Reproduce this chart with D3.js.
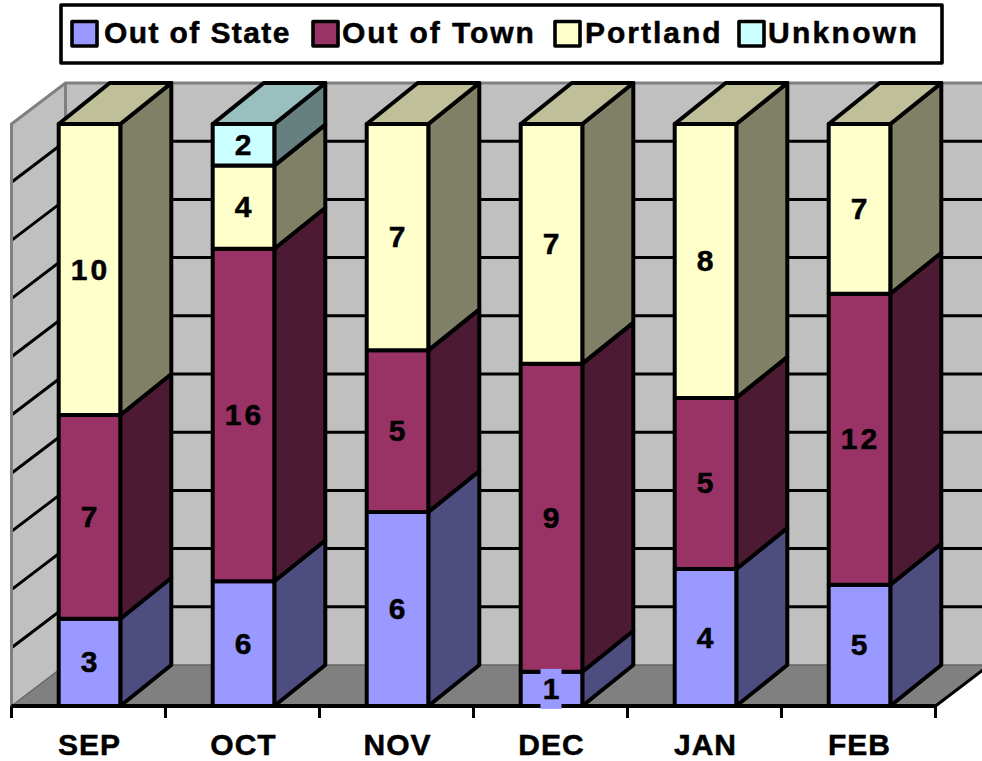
<!DOCTYPE html>
<html>
<head>
<meta charset="utf-8">
<script src="https://cdn.jsdelivr.net/npm/d3@7"></script>
<style>
html,body{margin:0;padding:0;background:#fff;overflow:hidden}
svg{display:block}
text{font-family:"Liberation Sans",Arial,sans-serif;font-weight:700;fill:#000;stroke:#000;stroke-width:0.5px}
</style>
</head>
<body>
<svg id="chart" width="982" height="761"></svg>
<script>
const months = ["SEP","OCT","NOV","DEC","JAN","FEB"];
const seriesNames = ["Out of State","Out of Town","Portland","Unknown"];
const outOfState = [3,6,6,1,4,5];
const outOfTown = [7,16,5,9,5,12];
const portland = [10,4,7,7,8,7];
const unknown = [0,2,0,0,0,0];
const seriesValues = [outOfState,outOfTown,portland,unknown];
const seriesColors = ["#9999FF","#993366","#FFFFCC","#CCFFFF"];
const gridTicks = [0,0.1,0.2,0.3,0.4,0.5,0.6,0.7,0.8,0.9,1];

const svg = d3.select("#chart");
const dx = 54, dy = 41, barDx = 51;
const x = d3.scaleBand().domain(months).range([12.5,936.5]).paddingInner(0.6).paddingOuter(0.3);
const y = d3.scaleLinear().domain([0,1]).range([706,124]);
const line = d3.line();
const shade = (c,k)=>{const r=d3.rgb(c);return d3.rgb(r.r*k,r.g*k,r.b*k).formatHex();};

const table = months.map((m,i)=>{
  const row={month:m};
  seriesNames.forEach((s,j)=>row[s]=seriesValues[j][i]);
  return row;
});
const stacked = d3.stack().keys(seriesNames).offset(d3.stackOffsetExpand)(table);

// walls
const L = 11.5, R = 935.5, gray="#808080";
svg.append("path").attr("d",line([[L,y(1)],[L+dx,y(1)-dy],[L+dx,y(0)-dy],[L,y(0)]])+"Z").attr("fill","#C0C0C0");
svg.append("rect").attr("x",L+dx).attr("y",y(1)-dy).attr("width",982-L-dx).attr("height",y(0)-y(1)).attr("fill","#C0C0C0");
svg.append("path").attr("d",line([[L,y(0)],[L+dx,y(0)-dy],[R+dx,y(0)-dy],[R,y(0)]])+"Z").attr("fill",gray);

// grid
const grid = svg.append("g");
gridTicks.slice(1,-1).forEach(t=>{
  grid.append("path").attr("d",line([[L,y(t)],[L+dx,y(t)-dy],[982,y(t)-dy]]))
    .attr("fill","none").attr("stroke","#000").attr("stroke-width",3);
});
// wall edges
svg.append("path").attr("d",line([[L,y(0)],[L,y(1)],[L+dx,y(1)-dy],[982,y(1)-dy]])).attr("fill","none").attr("stroke",gray).attr("stroke-width",3);
svg.append("path").attr("d",line([[L+dx,y(1)-dy],[L+dx,y(0)-dy]])).attr("fill","none").attr("stroke",gray).attr("stroke-width",3);
svg.append("path").attr("d",line([[L,y(0)],[L+dx,y(0)-dy],[982,y(0)-dy]])).attr("fill","none").attr("stroke","#666").attr("stroke-width",1.5);
// floor right edge
svg.append("path").attr("d",line([[R,y(0)],[R+dx,y(0)-dy]])).attr("fill","none").attr("stroke","#000").attr("stroke-width",3);

// bars
const bars = svg.append("g").attr("stroke","#000").attr("stroke-width",4).attr("stroke-linejoin","round");
months.forEach((m,i)=>{
  const x0=x(m), x1=x0+x.bandwidth();
  const segs = stacked.map((s,j)=>({j,a:s[i][0],b:s[i][1],v:seriesValues[j][i]})).filter(d=>d.v>0);
  segs.forEach(d=>{
    const c=seriesColors[d.j];
    bars.append("path").attr("d",line([[x1,y(d.a)],[x1+barDx,y(d.a)-dy],[x1+barDx,y(d.b)-dy],[x1,y(d.b)]])+"Z").attr("fill",shade(c,0.5));
    bars.append("rect").attr("x",x0).attr("y",y(d.b)).attr("width",x1-x0).attr("height",y(d.a)-y(d.b)).attr("fill",c);
  });
  const t=segs[segs.length-1];
  bars.append("path").attr("d",line([[x0,y(1)],[x0+barDx,y(1)-dy],[x1+barDx,y(1)-dy],[x1,y(1)]])+"Z").attr("fill",shade(seriesColors[t.j],0.75));
});

// axis
const axisG = svg.append("g").attr("transform","translate(0,706)");
axisG.call(d3.axisBottom(x).tickSize(0).tickPadding(0));
axisG.select(".domain").attr("d",line([[L,0],[R,0]])).attr("stroke","#000").attr("stroke-width",4);
axisG.selectAll(".tick text").attr("y",49).attr("dy",0).style("font-size","30px").style("letter-spacing","1px").attr("font-family",null).attr("font-size",null);
d3.range(0,months.length+1).forEach(i=>{
  const p=L+i*x.step();
  axisG.append("line").attr("x1",p).attr("x2",p).attr("y1",0).attr("y2",12).attr("stroke","#000").attr("stroke-width",3);
});

// data labels
const labels = svg.append("g").attr("text-anchor","middle").style("font-size","30px").style("letter-spacing","3px");
stacked.forEach((s,j)=>{
  months.forEach((m,i)=>{
    const v=seriesValues[j][i]; if(!v) return;
    const cx=x(m)+x.bandwidth()/2, cy=(y(s[i][0])+y(s[i][1]))/2;
    if(y(s[i][0])-y(s[i][1])<40){
      labels.append("rect").attr("x",cx-11).attr("y",cy-20).attr("width",21).attr("height",40).attr("fill",seriesColors[j]);
    }
    labels.append("text").attr("x",cx+1).attr("y",cy+10).text(v);
  });
});

// legend
const legendBox = {x:61,y:5,w:881,h:58};
const legendSwatchX = [72,313,555,739];
const legendTextX = [104,342,585,768];
const legendSpacing = [1.4,1.9,2,2.3];
const lg = svg.append("g");
lg.append("rect").attr("x",legendBox.x).attr("y",legendBox.y).attr("width",legendBox.w).attr("height",legendBox.h)
  .attr("fill","#fff").attr("stroke","#000").attr("stroke-width",3.6).attr("stroke-linejoin","round");
seriesNames.forEach((s,j)=>{
  lg.append("rect").attr("x",legendSwatchX[j]).attr("y",21.5).attr("width",25).attr("height",24.5)
    .attr("fill",seriesColors[j]).attr("stroke","#000").attr("stroke-width",3.6).attr("stroke-linejoin","round");
  lg.append("text").attr("x",legendTextX[j]).attr("y",43).style("font-size","30px").style("letter-spacing",legendSpacing[j]+"px").text(s);
});
</script>
</body>
</html>
